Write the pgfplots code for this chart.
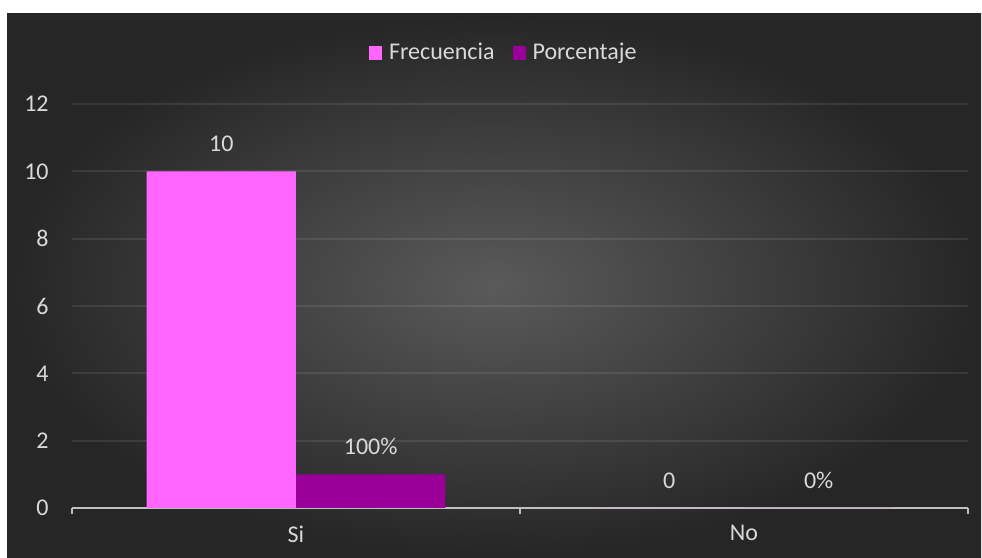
\documentclass[border=0pt]{standalone}
\usepackage{fontspec}
\setmainfont{Carlito}
\usepackage{pgfplots}
\pgfplotsset{compat=1.18}

\definecolor{bgin}{HTML}{5A5A5A}
\definecolor{bgout}{HTML}{262626}
\definecolor{txt}{HTML}{D9D9D9}
\definecolor{axisline}{HTML}{BFBFBF}
\definecolor{frec}{HTML}{FF66FF}
\definecolor{porc}{HTML}{990099}

\begin{document}
\fontsize{12pt}{14.5pt}\selectfont
\begin{tikzpicture}[x=1pt,y=1pt,font=\fontsize{12pt}{14.5pt}\selectfont]
% page and dark chart area
\fill[white] (0,0) rectangle (491,279);
\shade[inner color=bgin, outer color=bgout] (3.5,0) rectangle (490.5,272);
\begin{axis}[
  at={(36pt,25pt)}, anchor=south west,
  scale only axis, width=448pt, height=202pt,
  ymin=0, ymax=12, ytick={0,2,...,12},
  xmin=-0.5, xmax=1.5,
  xtick={-0.5,0.5,1.5}, xticklabels={Si,No},
  x tick label as interval,
  xtick style={draw=axisline, line width=0.9pt},
  major tick length=2.8pt, xtick align=outside,
  ytick style={draw=none},
  axis lines*=left,
  y axis line style={draw=none},
  x axis line style={draw=axisline, line width=0.9pt},
  ymajorgrids, grid style={draw=white, draw opacity=0.09, line width=1pt},
  tick label style={text=txt},
  yticklabel shift=7.5pt,
  xticklabel shift=1.8pt,
  /pgf/number format/assume math mode=true,
  ybar, bar width=0.3333,
  point meta=explicit symbolic,
  nodes near coords,
  every node near coord/.append style={text=txt, yshift=5.5pt},
  legend columns=2,
  legend style={at={(0.482,1.126)}, anchor=center, draw=none, fill=none,
    text=txt, nodes={inner xsep=1pt},
    /tikz/every even column/.append style={column sep=8pt}},
  legend image code/.code={\fill[#1] (0pt,-3.3pt) rectangle (6.5pt,3.3pt);
    \path (9pt,0pt);},
]
\addplot[fill=frec, draw=none, bar shift=-0.16667]
  coordinates {(0,10) [10] (1,0) [0]};
\addlegendentry{Frecuencia}
\addplot[fill=porc, draw=none, bar shift=0.16667]
  coordinates {(0,1) [100\%] (1,0) [0\%]};
\addlegendentry{Porcentaje}
\end{axis}
\pgfresetboundingbox
\path (0,0) rectangle (491,279);
\end{tikzpicture}
\end{document}
